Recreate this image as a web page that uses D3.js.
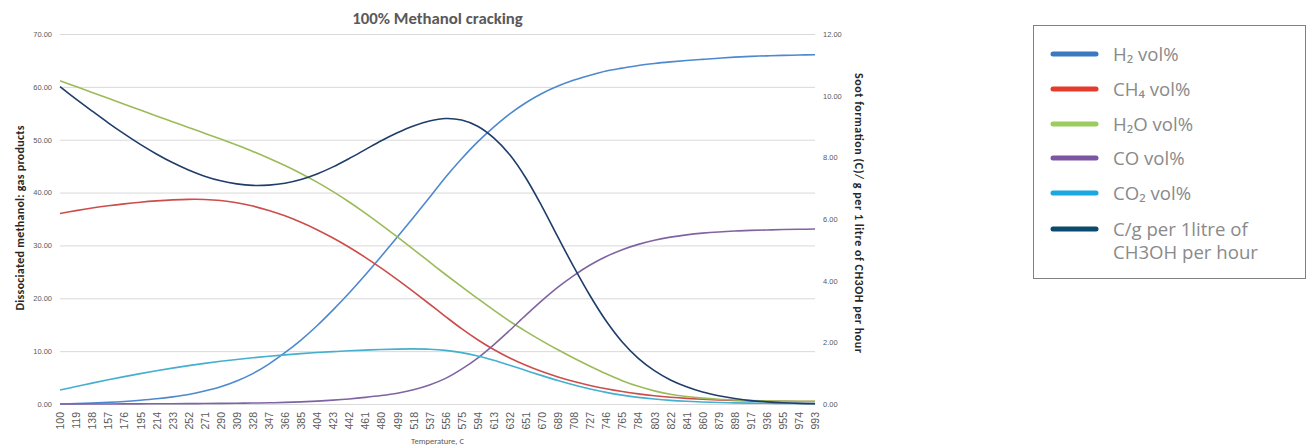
<!DOCTYPE html>
<html>
<head>
<meta charset="utf-8">
<script src="https://cdn.jsdelivr.net/npm/d3@7"></script>
<style>
  body { margin: 0; background: #fff; }
  svg { display: block; }
  .grid line { stroke: #d9d9d9; stroke-width: 1; }
  .grid .domain { display: none; }
  .tick text { fill: #595959; }
  .serie { fill: none; stroke-width: 1.6; }
</style>
</head>
<body>
<svg id="chart"></svg>
<script>
// Temperature categories (x axis)
var temps = [100,119,138,157,176,195,214,233,252,271,290,309,328,347,366,385,404,423,442,461,
             480,499,518,537,556,575,594,613,632,651,670,689,708,727,746,765,784,803,822,841,
             860,879,898,917,936,955,974,993];

// Gas products, vol% (left axis)
var h2 = [0.00,0.07,0.17,0.30,0.48,0.72,1.00,1.35,1.80,2.45,3.25,4.35,5.75,7.55,9.70,12.10,14.80,17.80,21.00,24.40,
          27.95,31.60,35.30,39.05,42.90,46.40,49.60,52.40,54.90,57.00,58.75,60.15,61.30,62.20,63.00,63.55,64.05,64.42,64.72,64.98,
          65.20,65.42,65.62,65.77,65.87,65.95,66.02,66.08];
var ch4 = [36.04,36.58,37.07,37.50,37.87,38.18,38.43,38.62,38.72,38.70,38.50,38.08,37.45,36.62,35.60,34.38,32.98,31.40,29.65,27.75,
           25.70,23.52,21.25,18.92,16.55,14.25,12.15,10.30,8.70,7.32,6.13,5.12,4.25,3.50,2.87,2.35,1.92,1.57,1.29,1.07,
           0.90,0.77,0.67,0.60,0.55,0.51,0.48,0.46];
var h2o = [61.16,60.05,58.95,57.83,56.72,55.62,54.50,53.41,52.31,51.23,50.13,48.98,47.78,46.50,45.12,43.62,41.97,40.17,38.22,36.12,
           33.90,31.60,29.25,26.87,24.50,22.20,19.95,17.75,15.65,13.75,11.95,10.25,8.65,7.15,5.72,4.42,3.34,2.48,1.86,1.42,
           1.12,0.91,0.77,0.67,0.60,0.55,0.52,0.50];
var co = [0.00,0.00,0.01,0.01,0.02,0.03,0.04,0.05,0.07,0.09,0.11,0.14,0.18,0.23,0.30,0.40,0.55,0.73,0.96,1.25,
          1.60,2.05,2.70,3.60,4.85,6.60,8.70,11.20,13.95,16.80,19.55,22.10,24.35,26.30,27.90,29.20,30.20,30.98,31.57,32.00,
          32.32,32.55,32.72,32.84,32.93,33.00,33.05,33.10];
var co2 = [2.65,3.30,3.95,4.58,5.18,5.75,6.29,6.79,7.26,7.69,8.08,8.43,8.75,9.04,9.30,9.53,9.73,9.91,10.07,10.20,
           10.31,10.39,10.42,10.36,10.15,9.72,9.08,8.26,7.33,6.35,5.37,4.44,3.59,2.84,2.20,1.68,1.26,0.94,0.69,0.51,
           0.38,0.29,0.22,0.17,0.13,0.11,0.09,0.08];

// Soot formation, g per 1 litre CH3OH per hour (right axis)
var soot = [10.29,9.89,9.50,9.12,8.76,8.42,8.11,7.83,7.59,7.39,7.24,7.14,7.09,7.10,7.16,7.28,7.46,7.69,7.96,8.25,
            8.54,8.80,9.02,9.18,9.26,9.21,9.01,8.63,8.08,7.33,6.41,5.41,4.43,3.51,2.69,2.01,1.48,1.08,0.78,0.56,
            0.39,0.27,0.18,0.11,0.07,0.04,0.02,0.01];

var leftTicks = [0,10,20,30,40,50,60,70];
var rightTicks = [0,2,4,6,8,10,12];

var series = [
  {name: "H\u2082 vol%",  values: h2,  axis: "left",  color: "#4e88cf", legend: "#3a78c0"},
  {name: "CH\u2084 vol%", values: ch4, axis: "left",  color: "#cc4d4a", legend: "#e53b2c"},
  {name: "H\u2082O vol%", values: h2o, axis: "left",  color: "#9bbb59", legend: "#9ccb5f"},
  {name: "CO vol%",       values: co,  axis: "left",  color: "#8064a2", legend: "#7c55a3"},
  {name: "CO\u2082 vol%", values: co2, axis: "left",  color: "#45afcf", legend: "#19a8e0"},
  {name: ["C/g per 1litre of", "CH3OH per hour"], values: soot, axis: "right", color: "#1f3d6a", legend: "#0b4a6e"}
];

// Size params
var width = 1307, height = 448;
var plot = {left: 60, right: 815, top: 34, bottom: 404};

var svg = d3.select("#chart")
    .attr("width", width)
    .attr("height", height)
    .style("font-family", "Calibri, Carlito, 'Liberation Sans', sans-serif");

// Scales
var x = d3.scalePoint()
          .domain(temps)
          .range([plot.left, plot.right]);

var yL = d3.scaleLinear()
          .domain([0, 70])
          .range([plot.bottom, plot.top]);

var yR = d3.scaleLinear()
          .domain([0, 12])
          .range([plot.bottom, plot.top]);

// Gridlines + left axis
svg.append("g")
    .attr("class", "grid")
    .attr("transform", "translate(" + plot.left + ",0)")
    .call(d3.axisLeft(yL).tickValues(leftTicks)
            .tickSize(-(plot.right - plot.left))
            .tickPadding(8)
            .tickFormat(d3.format(".2f")))
  .selectAll("text")
    .style("font-size", "7.5px");

// Right axis
svg.append("g")
    .attr("transform", "translate(" + plot.right + ",0)")
    .call(d3.axisRight(yR).tickValues(rightTicks)
            .tickSize(0)
            .tickPadding(8)
            .tickFormat(d3.format(".2f")))
  .call(g => g.select(".domain").remove())
  .selectAll("text")
    .style("font-size", "7.5px");

// Bottom axis
var xAxisG = svg.append("g")
    .attr("transform", "translate(0," + plot.bottom + ")")
    .call(d3.axisBottom(x).tickSize(0).tickPadding(0));

xAxisG.select(".domain").attr("stroke", "#d9d9d9");

xAxisG.selectAll("text")
    .attr("transform", "rotate(-90)")
    .attr("x", -8)
    .attr("y", 0)
    .attr("dy", "0.35em")
    .style("text-anchor", "end")
    .style("font-size", "10.5px");

// Lines
series.forEach(function(s) {
  var yScale = s.axis == "left" ? yL : yR;
  var line = d3.line()
      .x((d, i) => x(temps[i]))
      .y(d => yScale(d))
      .curve(d3.curveCatmullRom.alpha(0.5));
  svg.append("path")
      .datum(s.values)
      .attr("class", "serie")
      .attr("stroke", s.color)
      .attr("d", line);
});

// Title
svg.append("text")
    .attr("x", (plot.left + plot.right) / 2)
    .attr("y", 24)
    .attr("text-anchor", "middle")
    .style("font-size", "16.8px")
    .style("font-weight", "bold")
    .style("fill", "#595959")
    .text("100% Methanol cracking");

// Axis titles
svg.append("text")
    .attr("transform", "translate(24,218) rotate(-90)")
    .attr("text-anchor", "middle")
    .attr("textLength", 185)
    .attr("lengthAdjust", "spacing")
    .style("font-size", "12px")
    .style("font-weight", "bold")
    .style("fill", "#262626")
    .text("Dissociated methanol: gas products");

svg.append("text")
    .attr("transform", "translate(854.5,213) rotate(90)")
    .attr("text-anchor", "middle")
    .attr("textLength", 280)
    .attr("lengthAdjust", "spacing")
    .style("font-size", "12px")
    .style("font-weight", "bold")
    .style("fill", "#262626")
    .text("Soot formation (C)/ g per 1 litre of CH3OH per hour");

svg.append("text")
    .attr("x", (plot.left + plot.right) / 2)
    .attr("y", 444)
    .attr("text-anchor", "middle")
    .style("font-size", "8.5px")
    .style("fill", "#595959")
    .text("Temperature, C");

// Legend
var legend = svg.append("g");

legend.append("rect")
    .attr("x", 1033.5)
    .attr("y", 25.5)
    .attr("width", 272)
    .attr("height", 253)
    .attr("fill", "#fff")
    .attr("stroke", "#808080");

var legendY = [54, 89, 124, 158, 193, 229];

var items = legend.selectAll(".item")
  .data(series)
  .enter().append("g")
    .attr("class", "item")
    .attr("transform", (d, i) => "translate(0," + legendY[i] + ")");

items.append("line")
    .attr("x1", 1053)
    .attr("x2", 1096)
    .attr("stroke", d => d.legend)
    .attr("stroke-width", 5)
    .attr("stroke-linecap", "round");

items.append("text")
    .attr("x", 1113)
    .style("font-family", "'Open Sans', Lato, sans-serif")
    .style("font-size", "18.6px")
    .style("fill", "#8a8a8a")
    .selectAll("tspan")
    .data(d => Array.isArray(d.name) ? d.name : [d.name])
    .enter().append("tspan")
      .attr("x", 1113)
      .attr("dy", (d, i) => i == 0 ? "0.35em" : "23px")
      .text(d => d);
</script>
</body>
</html>
